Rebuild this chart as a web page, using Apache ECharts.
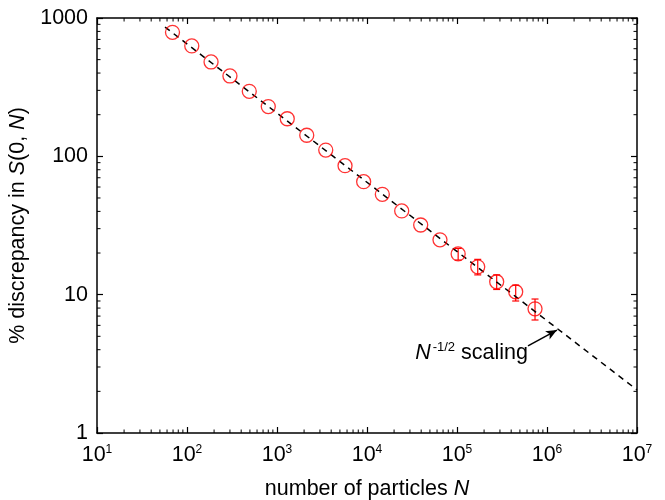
<!DOCTYPE html>
<html>
<head>
<meta charset="utf-8">
<script src="https://cdn.jsdelivr.net/npm/echarts@6/dist/echarts.min.js"></script>
<style>
  html, body { margin: 0; padding: 0; background: #fff; }
  #chart { width: 665px; height: 500px; }
</style>
</head>
<body>
<div id="chart"></div>
<script>
// measured points: number of particles N vs % discrepancy
const particles = [69, 113, 185, 300, 492, 800, 1300, 2140, 3480, 5700, 9180, 14800, 24300, 39500, 64700, 103000, 170000, 276000, 449000, 736000];
const discrepancy = [788, 628, 481, 381, 295, 229, 187, 142, 111, 85.6, 65.6, 53.1, 40.3, 31.9, 24.9, 19.7, 15.9, 12.4, 10.5, 7.9];
const errLow = [null, null, null, null, null, null, null, null, null, null, null, null, null, null, null, 17.8, 13.9, 10.9, 9.0, 6.56];
const errHigh = [null, null, null, null, null, null, null, null, null, null, null, null, null, null, null, 21.6, 18.0, 13.9, 11.7, 9.3];

// N^-1/2 reference line (end points)
const fitN = [57, 1e7];
const fitVal = [860, 2.05];

// annotation arrow (tail, head)
const arrowN = [615000, 1290000];
const arrowVal = [4.26, 5.55];

const xMin = 10, xMax = 1e7;
const yMin = 1, yMax = 1000;

// minor tick positions 2..9 x 10^k
const minorX = [];
for (let k = 1; k < 7; k++) for (let m = 2; m < 10; m++) minorX.push(m * Math.pow(10, k));
const minorY = [];
for (let k = 0; k < 3; k++) for (let m = 2; m < 10; m++) minorY.push(m * Math.pow(10, k));

const font = 'Liberation Sans, Arial, sans-serif';
const fs = 21.5;

const chart = echarts.init(document.getElementById('chart'));

const baseX = {
    type: 'log', logBase: 10, min: xMin, max: xMax,
    splitLine: { show: false },
    axisLine: { show: true, onZero: false, lineStyle: { color: '#000', width: 1.5 } },
    axisTick: { show: true, inside: true, length: 6, lineStyle: { color: '#000', width: 1.2 } }
};
const baseY = {
    type: 'log', logBase: 10, min: yMin, max: yMax,
    splitLine: { show: false },
    axisLine: { show: true, onZero: false, lineStyle: { color: '#000', width: 1.5 } },
    axisTick: { show: true, inside: true, length: 6, lineStyle: { color: '#000', width: 1.2 } }
};

chart.setOption({
    animation: false,
    textStyle: { fontFamily: font },
    grid: { left: 97, right: 28, top: 18, bottom: 67, containLabel: false, outerBoundsMode: 'none' },
    xAxis: [
        {
            ...baseX,
            position: 'bottom',
            name: '{n|number of particles }{i|N}',
            nameLocation: 'middle',
            nameGap: 45,
            nameTextStyle: {
                rich: {
                    n: { fontSize: fs, color: '#000', fontFamily: font },
                    i: { fontSize: fs, color: '#000', fontFamily: font, fontStyle: 'italic' }
                }
            },
            axisLabel: {
                margin: 11,
                formatter: v => '{b|10}{s|' + Math.round(Math.log10(v)) + '}',
                rich: {
                    b: { fontSize: fs, color: '#000', fontFamily: font },
                    s: { fontSize: 12, color: '#000', fontFamily: font, padding: [0, 0, 11, 0] }
                }
            }
        },
        { ...baseX, position: 'top', axisLabel: { show: false } }
    ],
    yAxis: [
        {
            ...baseY,
            position: 'left',
            name: '{n|% discrepancy in }{i|S}{n|(0, }{i|N}{n|)}',
            nameLocation: 'middle',
            nameGap: 59,
            nameTextStyle: {
                rich: {
                    n: { fontSize: fs, color: '#000', fontFamily: font },
                    i: { fontSize: fs, color: '#000', fontFamily: font, fontStyle: 'italic' }
                }
            },
            axisLabel: { margin: 9, fontSize: fs, color: '#000', formatter: v => String(v) }
        },
        { ...baseY, position: 'right', axisLabel: { show: false } }
    ],
    series: [
        {
            type: 'custom',
            name: 'minorX',
            silent: true,
            data: minorX.map(v => [v, 1]),
            renderItem(params, api) {
                const cs = params.coordSys;
                const x = api.coord([api.value(0), 1])[0];
                const style = { stroke: '#000', lineWidth: 1 };
                return {
                    type: 'group',
                    children: [
                        { type: 'line', shape: { x1: x, y1: cs.y + cs.height, x2: x, y2: cs.y + cs.height - 3.5 }, style },
                        { type: 'line', shape: { x1: x, y1: cs.y, x2: x, y2: cs.y + 3.5 }, style }
                    ]
                };
            }
        },
        {
            type: 'custom',
            name: 'minorY',
            silent: true,
            data: minorY.map(v => [10, v]),
            renderItem(params, api) {
                const cs = params.coordSys;
                const y = api.coord([10, api.value(1)])[1];
                const style = { stroke: '#000', lineWidth: 1 };
                return {
                    type: 'group',
                    children: [
                        { type: 'line', shape: { x1: cs.x, y1: y, x2: cs.x + 3.5, y2: y }, style },
                        { type: 'line', shape: { x1: cs.x + cs.width, y1: y, x2: cs.x + cs.width - 3.5, y2: y }, style }
                    ]
                };
            }
        },
        {
            type: 'line',
            name: 'fit',
            data: fitN.map((n, i) => [n, fitVal[i]]),
            symbol: 'none',
            lineStyle: { color: '#000', width: 1.5, type: [6, 5] },
            z: 3,
            markLine: {
                silent: true,
                symbol: ['none', 'arrow'],
                symbolSize: [7, 11],
                label: { show: false },
                lineStyle: { color: '#000', width: 1.5, type: 'solid' },
                data: [[
                    { coord: [arrowN[0], arrowVal[0]] },
                    { coord: [arrowN[1], arrowVal[1]] }
                ]]
            }
        },
        {
            type: 'custom',
            name: 'errors',
            data: particles.map((n, i) => [n, errLow[i], errHigh[i]]).filter(d => d[1] != null),
            renderItem(params, api) {
                const lo = api.coord([api.value(0), api.value(1)]);
                const hi = api.coord([api.value(0), api.value(2)]);
                const w = 3.5;
                const style = { stroke: '#ff0000', lineWidth: 1.2 };
                return {
                    type: 'group',
                    children: [
                        { type: 'line', shape: { x1: lo[0], y1: lo[1], x2: hi[0], y2: hi[1] }, style },
                        { type: 'line', shape: { x1: lo[0] - w, y1: lo[1], x2: lo[0] + w, y2: lo[1] }, style },
                        { type: 'line', shape: { x1: hi[0] - w, y1: hi[1], x2: hi[0] + w, y2: hi[1] }, style }
                    ]
                };
            }
        },
        {
            type: 'scatter',
            name: 'data',
            data: particles.map((n, i) => [n, discrepancy[i]]),
            symbol: 'circle',
            symbolSize: 14,
            itemStyle: { color: 'rgba(255,255,255,0)', borderColor: '#ff0000', borderWidth: 1.3 },
            z: 4
        }
    ]
});

// annotation text, anchored to the arrow tail
const tail = chart.convertToPixel({ gridIndex: 0 }, [arrowN[0], arrowVal[0]]);
chart.setOption({
    graphic: [{
        type: 'text',
        x: tail[0],
        y: tail[1] + 7,
        style: {
            text: '{i|N}{s|-1/2}{n| scaling}',
            align: 'right',
            verticalAlign: 'middle',
            rich: {
                i: { fontSize: fs, fontStyle: 'italic', fill: '#000', fontFamily: font },
                s: { fontSize: 13, fill: '#000', fontFamily: font, padding: [0, 0, 11, 2] },
                n: { fontSize: fs, fill: '#000', fontFamily: font }
            }
        }
    }]
});
</script>
</body>
</html>
